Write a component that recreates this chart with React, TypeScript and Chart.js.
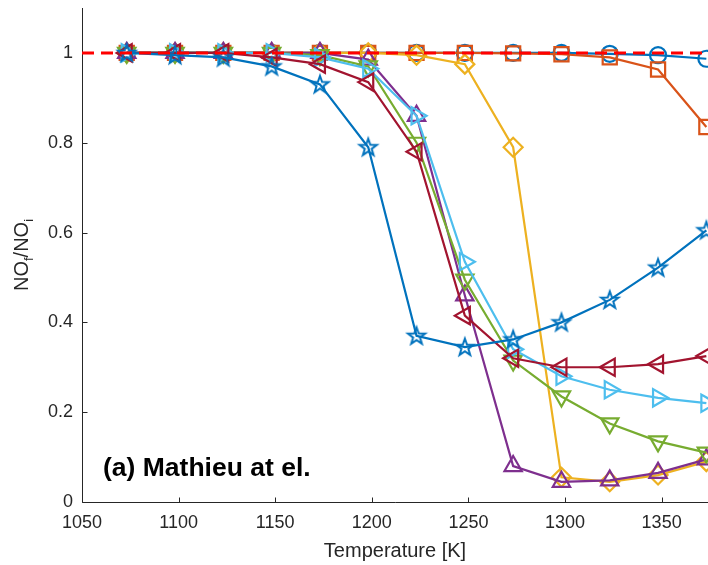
import React, { useEffect, useRef } from "react";
import { Chart, registerables } from "chart.js";

Chart.register(...registerables);

const temperatures = [1073.15, 1098.15, 1123.15, 1148.15, 1173.15, 1198.15, 1223.15, 1248.15, 1273.15, 1298.15, 1323.15, 1348.15, 1373.15];

const seriesCircle = [1, 1, 1, 1, 1, 1, 1, 1, 1, 1, 0.998, 0.995, 0.987];
const seriesSquare = [1, 1, 1, 1, 1, 1, 1, 1, 0.999, 0.997, 0.99, 0.963, 0.835];
const seriesDiamond = [1, 1, 1, 1, 1, 1, 0.995, 0.975, 0.79, 0.055, 0.045, 0.06, 0.09];
const seriesTriUp = [1, 1, 1, 1, 1, 0.985, 0.86, 0.46, 0.08, 0.045, 0.048, 0.065, 0.095];
const seriesTriDown = [1, 1, 1, 1, 0.995, 0.97, 0.8, 0.495, 0.315, 0.235, 0.175, 0.135, 0.11];
const seriesTriRight = [1, 1, 1, 1, 0.99, 0.965, 0.86, 0.535, 0.34, 0.28, 0.25, 0.232, 0.22];
const seriesTriLeft = [1, 1, 1, 0.99, 0.975, 0.935, 0.78, 0.415, 0.32, 0.3, 0.3, 0.307, 0.325];
const seriesStar = [1, 0.995, 0.99, 0.97, 0.93, 0.79, 0.37, 0.345, 0.362, 0.4, 0.45, 0.522, 0.605];

const referenceX = [1050, 1374];
const referenceY = [1, 1];

const xTickValues = [1050, 1100, 1150, 1200, 1250, 1300, 1350];
const yTickValues = [0, 0.2, 0.4, 0.6, 0.8, 1];

const xTitle = "Temperature [K]";
const annotationText = "(a) Mathieu at el.";

const FONT = "'Liberation Sans', Arial, Helvetica, sans-serif";
const AXIS_COLOR = "#262626";

function makePentagram(color: string): HTMLCanvasElement {
  const c = document.createElement("canvas");
  c.width = 24;
  c.height = 24;
  const ctx = c.getContext("2d")!;
  const cx = 12, cy = 12.5, R = 9, r = 3.6;
  ctx.beginPath();
  for (let i = 0; i < 10; i++) {
    const rad = (i % 2 === 0 ? R : r);
    const a = -Math.PI / 2 + (i * Math.PI) / 5;
    const px = cx + rad * Math.cos(a);
    const py = cy + rad * Math.sin(a);
    if (i === 0) ctx.moveTo(px, py);
    else ctx.lineTo(px, py);
  }
  ctx.closePath();
  ctx.strokeStyle = color;
  ctx.lineWidth = 2;
  ctx.lineJoin = "miter";
  ctx.stroke();
  return c;
}

const toPoints = (ys: number[]) => temperatures.map((t, i) => ({ x: t, y: ys[i] }));

const decorPlugin = {
  id: "decor",
  beforeDatasetsDraw(chart: any) {
    const { ctx, chartArea, scales } = chart;
    const xs = scales.x;
    const ys = scales.y;
    ctx.save();
    ctx.strokeStyle = AXIS_COLOR;
    ctx.lineWidth = 1;
    ctx.beginPath();
    const left = Math.round(chartArea.left) + 0.5;
    const bottom = Math.round(chartArea.bottom) + 0.5;
    ctx.moveTo(left, chartArea.top);
    ctx.lineTo(left, bottom);
    ctx.lineTo(chartArea.right + 5, bottom);
    for (const v of xTickValues) {
      const px = Math.round(xs.getPixelForValue(v)) + 0.5;
      ctx.moveTo(px, bottom);
      ctx.lineTo(px, bottom - 5);
    }
    for (const v of yTickValues) {
      const py = Math.round(ys.getPixelForValue(v)) + 0.5;
      ctx.moveTo(left, py);
      ctx.lineTo(left + 5, py);
    }
    ctx.stroke();
    ctx.restore();
  },
  afterDraw(chart: any) {
    const { ctx, chartArea } = chart;
    ctx.save();
    ctx.fillStyle = AXIS_COLOR;
    ctx.font = `20px ${FONT}`;
    ctx.textAlign = "center";
    ctx.textBaseline = "alphabetic";
    ctx.fillText(xTitle, (chartArea.left + chartArea.right) / 2, 557);
    const cy = (chartArea.top + chartArea.bottom) / 2;
    ctx.translate(28, cy);
    ctx.rotate(-Math.PI / 2);
    const parts: { t: string; sub: boolean }[] = [
      { t: "NO", sub: false },
      { t: "f", sub: true },
      { t: "/NO", sub: false },
      { t: "i", sub: true },
    ];
    const mainFont = `20px ${FONT}`;
    const subFont = `13px ${FONT}`;
    let total = 0;
    for (const p of parts) {
      ctx.font = p.sub ? subFont : mainFont;
      total += ctx.measureText(p.t).width;
    }
    let x = -total / 2;
    ctx.textAlign = "left";
    for (const p of parts) {
      ctx.font = p.sub ? subFont : mainFont;
      ctx.fillText(p.t, x, p.sub ? 5 : 0);
      x += ctx.measureText(p.t).width;
    }
    ctx.restore();
    ctx.save();
    ctx.fillStyle = "#000000";
    ctx.font = `bold 26.5px ${FONT}`;
    ctx.textAlign = "left";
    ctx.textBaseline = "alphabetic";
    ctx.fillText(annotationText, 103, 476);
    ctx.restore();
  },
};

export default function App() {
  const ref = useRef<HTMLCanvasElement | null>(null);
  useEffect(() => {
    document.body.style.margin = "0";
    const canvas = ref.current!;
    const star = makePentagram("#0072BD");
    const base = {
      borderWidth: 2.2,
      pointBorderWidth: 2.2,
      pointBackgroundColor: "rgba(0,0,0,0)",
      fill: false,
      tension: 0,
      clip: false as any,
    };
    const chart = new Chart(canvas, {
      type: "line",
      data: {
        datasets: [
          { ...base, label: "o", data: toPoints(seriesCircle), borderColor: "#0072BD", pointBorderColor: "#0072BD", pointStyle: "circle", pointRadius: 8, order: 10 },
          { ...base, label: "s", data: toPoints(seriesSquare), borderColor: "#D95319", pointBorderColor: "#D95319", pointStyle: "rect", pointRadius: 10, order: 9 },
          { ...base, label: "d", data: toPoints(seriesDiamond), borderColor: "#EDB120", pointBorderColor: "#EDB120", pointStyle: "rectRot", pointRadius: 9.5, order: 8 },
          { ...base, label: "^", data: toPoints(seriesTriUp), borderColor: "#7E2F8E", pointBorderColor: "#7E2F8E", pointStyle: "triangle", pointRotation: 0, pointRadius: 10, order: 7 },
          { ...base, label: "v", data: toPoints(seriesTriDown), borderColor: "#77AC30", pointBorderColor: "#77AC30", pointStyle: "triangle", pointRotation: 180, pointRadius: 10, order: 6 },
          { ...base, label: ">", data: toPoints(seriesTriRight), borderColor: "#4DBEEE", pointBorderColor: "#4DBEEE", pointStyle: "triangle", pointRotation: 90, pointRadius: 10, order: 5 },
          { ...base, label: "<", data: toPoints(seriesTriLeft), borderColor: "#A2142F", pointBorderColor: "#A2142F", pointStyle: "triangle", pointRotation: 270, pointRadius: 10, order: 4 },
          { ...base, label: "p", data: toPoints(seriesStar), borderColor: "#0072BD", pointBorderColor: "#0072BD", pointStyle: star as any, pointRadius: 9, order: 3 },
          {
            label: "ref",
            data: referenceX.map((x, i) => ({ x, y: referenceY[i] })),
            borderColor: "#FF0000",
            borderWidth: 3,
            borderDash: [12, 7],
            pointRadius: 0,
            fill: false,
            order: 0,
          },
        ] as any,
      },
      options: {
        animation: false,
        responsive: false,
        events: [],
        layout: { autoPadding: false, padding: { top: 8, right: 0, left: 0, bottom: 0 } },
        plugins: {
          legend: { display: false },
          tooltip: { enabled: false },
          title: { display: false },
        },
        scales: {
          x: {
            type: "linear",
            min: 1050,
            max: 1374,
            grid: { display: false, drawTicks: false },
            border: { display: false },
            ticks: {
              color: AXIS_COLOR,
              font: { family: FONT, size: 18 },
              padding: 10,
              maxRotation: 0,
              autoSkip: false,
              callback: (v: any) => String(v),
            },
            afterBuildTicks: (s: any) => {
              s.ticks = xTickValues.map((v) => ({ value: v }));
            },
            afterFit: (s: any) => {
              s.height = 63;
              s.paddingLeft = 0;
              s.paddingRight = 0;
            },
          },
          y: {
            type: "linear",
            min: 0,
            max: 1.1,
            grid: { display: false, drawTicks: false },
            border: { display: false },
            ticks: {
              color: AXIS_COLOR,
              font: { family: FONT, size: 18 },
              padding: 9,
              autoSkip: false,
              callback: (v: any) => String(Math.round(Number(v) * 10) / 10),
            },
            afterBuildTicks: (s: any) => {
              s.ticks = yTickValues.map((v) => ({ value: v }));
            },
            afterFit: (s: any) => {
              s.width = 82;
              s.paddingTop = 0;
              s.paddingBottom = 0;
            },
          },
        },
      } as any,
      plugins: [decorPlugin],
    });
    return () => chart.destroy();
  }, []);
  return <canvas ref={ref} width={708} height={565} style={{ display: "block" }} />;
}
